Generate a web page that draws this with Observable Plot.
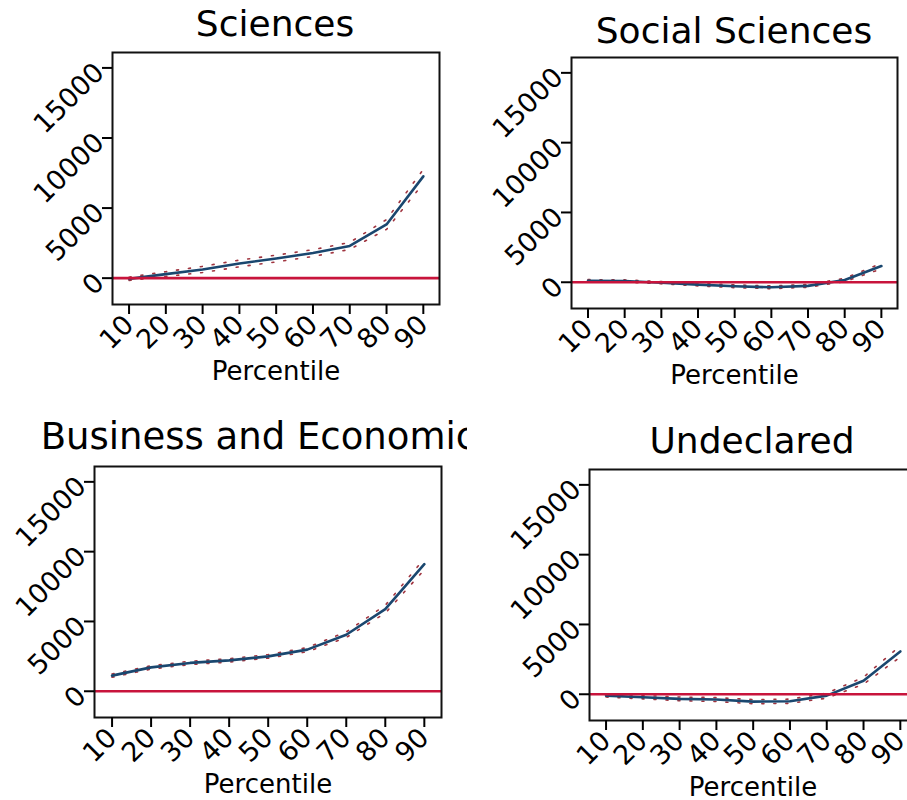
<!DOCTYPE html>
<html><head><meta charset="utf-8">
<script src="https://cdn.jsdelivr.net/npm/d3@7"></script>
<script src="https://cdn.jsdelivr.net/npm/@observablehq/plot@0.6"></script>
<style>
body{margin:0;background:#fff;font-family:"DejaVu Sans",sans-serif;}
#root{position:relative;width:907px;height:800px;overflow:hidden;background:#fff;}
.cell{position:absolute;overflow:hidden;}
.cell svg{position:absolute;}
.title{position:absolute;white-space:nowrap;text-align:center;color:#000;line-height:36px;width:700px;}
</style></head><body><div id="root"></div>
<script>
// ---- data ----
const percentiles = [10, 20, 30, 40, 50, 60, 70, 80, 90];
const yTicks = [0, 5000, 10000, 15000];
const panelTitles = ["Sciences", "Social Sciences", "Business and Economics", "Undeclared"];
const xLabel = "Percentile";

const sciencesEst   = [-50, 290, 620, 1050, 1400, 1790, 2300, 3830, 7260];
const sciencesLo    = [-170, 120, 400, 810, 1160, 1550, 2050, 3480, 6760];
const sciencesHi    = [70, 460, 840, 1290, 1640, 2030, 2550, 4180, 7760];

const socialEst     = [110, 90, -30, -170, -290, -360, -260, 160, 1160];
const socialLo      = [30, 10, -110, -260, -390, -460, -360, 40, 960];
const socialHi      = [190, 170, 50, -80, -190, -260, -160, 280, 1360];

const businessEst   = [1120, 1710, 2030, 2210, 2500, 2980, 4050, 5880, 9100];
const businessLo    = [1000, 1590, 1910, 2090, 2370, 2830, 3850, 5600, 8700];
const businessHi    = [1240, 1830, 2150, 2330, 2630, 3130, 4250, 6160, 9500];

const undeclaredEst = [-100, -210, -330, -380, -530, -500, -100, 970, 3070];
const undeclaredLo  = [-200, -330, -460, -520, -680, -650, -280, 720, 2670];
const undeclaredHi  = [0, -90, -200, -240, -380, -350, 80, 1220, 3470];

const seriesByPanel = [
  [sciencesEst, sciencesLo, sciencesHi],
  [socialEst, socialLo, socialHi],
  [businessEst, businessLo, businessHi],
  [undeclaredEst, undeclaredLo, undeclaredHi]
];

// ---- layout ----
const layouts = [
  {cellL: 0,   cellT: 0,   cellW: 468, cellH: 400, svgW: 468, svgH: 400, mL: 112, mR: 29, mT: 52, mB: 96, titleX: 275, titleBase: 36, titleSize: 36},
  {cellL: 468, cellT: 0,   cellW: 439, cellH: 400, svgW: 439, svgH: 400, mL: 103, mR: 10, mT: 57, mB: 92, titleX: 266, titleBase: 43, titleSize: 36},
  {cellL: 0,   cellT: 400, cellW: 467, cellH: 400, svgW: 468, svgH: 400, mL: 94,  mR: 27, mT: 66, mB: 83, titleX: 268, titleBase: 49, titleSize: 37},
  {cellL: 468, cellT: 400, cellW: 439, cellH: 400, svgW: 460, svgH: 400, mL: 121, mR: 12, mT: 69, mB: 80, titleX: 284, titleBase: 53, titleSize: 36}
];

const navy = "#1a476f", red = "#c8143c", ciColor = "#a0343f";
const root = document.getElementById("root");

panelTitles.forEach((title, i) => {
  const L = layouts[i];
  const [est, lo, hi] = seriesByPanel[i];
  const rows = percentiles.map((p, j) => ({p, est: est[j], lo: lo[j], hi: hi[j]}));
  const cell = document.createElement("div");
  cell.className = "cell";
  Object.assign(cell.style, {left: L.cellL + "px", top: L.cellT + "px", width: L.cellW + "px", height: L.cellH + "px"});
  const chart = Plot.plot({
    width: L.svgW, height: L.svgH,
    marginLeft: L.mL, marginRight: L.mR, marginTop: L.mT, marginBottom: L.mB,
    style: {fontFamily: "DejaVu Sans", fontSize: "27px", background: "transparent", overflow: "visible", maxWidth: "none", color: "#000"},
    x: {domain: [5.5, 94.4]},
    y: {domain: [-1880, 16100]},
    marks: [
      Plot.line(rows, {x: "p", y: "lo", stroke: ciColor, strokeWidth: 1.6, strokeDasharray: "2,10"}),
      Plot.line(rows, {x: "p", y: "hi", stroke: ciColor, strokeWidth: 1.6, strokeDasharray: "2,10"}),
      Plot.line(rows, {x: "p", y: "est", stroke: navy, strokeWidth: 2.6}),
      Plot.ruleY([0], {stroke: red, strokeWidth: 2.6}),
      Plot.frame({stroke: "#111", strokeWidth: 2}),
      Plot.axisY({ticks: yTicks, tickSize: 10, tickRotate: -45, tickFormat: d => String(d), fontSize: 27, strokeWidth: 2, label: null}),
      Plot.axisX({ticks: percentiles, tickSize: 10, tickRotate: -45, tickFormat: d => String(d), fontSize: 27, strokeWidth: 2, label: null}),
      Plot.text([xLabel], {frameAnchor: "bottom", dy: 75, lineAnchor: "bottom", fontSize: 26, fill: "#000"})
    ]
  });
  chart.style.left = "0px";
  chart.style.top = "0px";
  cell.appendChild(chart);
  const t = document.createElement("div");
  t.className = "title";
  t.textContent = title;
  Object.assign(t.style, {fontSize: L.titleSize + "px", left: (L.titleX - 350) + "px", top: (L.titleBase - 30.5) + "px"});
  cell.appendChild(t);
  root.appendChild(cell);
});
</script></body></html>
